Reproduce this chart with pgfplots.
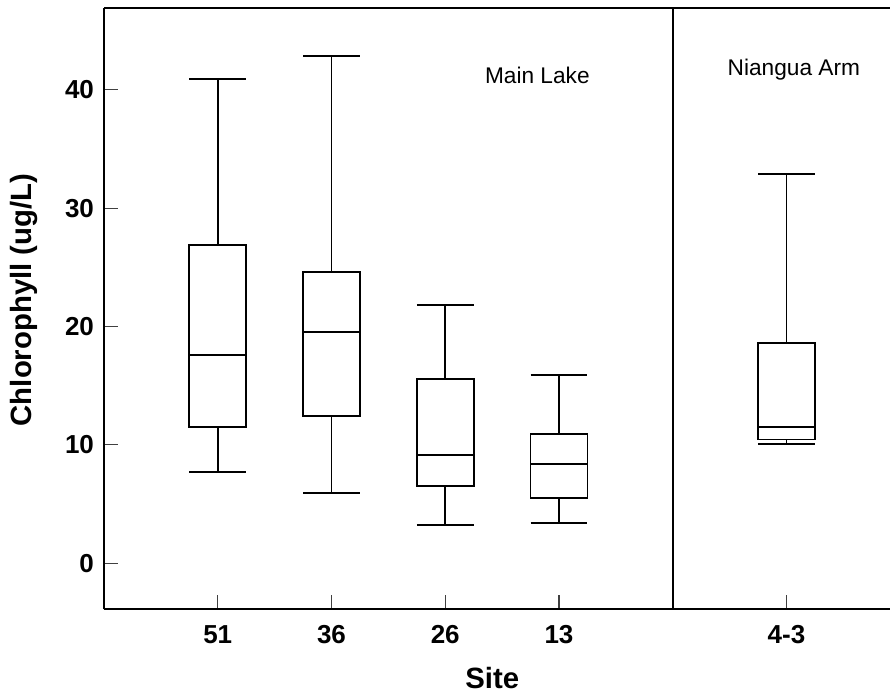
\documentclass[border=0pt]{standalone}
\usepackage{pgfplots}
\pgfplotsset{compat=1.18}
\usepgfplotslibrary{statistics}
\usepackage{fontspec}
\setmainfont{Liberation Sans}
\begin{document}
\begin{tikzpicture}
\begin{axis}[
  scale only axis,
  width=589.5pt, height=450.75pt,
  xmin=0, xmax=6.91, ymin=-3.9, ymax=46.9,
  axis x line=box, axis y line=left,
  axis line style={-, line width=1.4pt},
  tick align=inside,
  xtick pos=lower, ytick pos=lower,
  major tick length=10.5pt,
  tick style={black!75, line width=0.9pt},
  xtick={1,2,3,4,6},
  xticklabels={51,36,26,13,4-3},
  ytick={0,10,20,30,40},
  /pgf/number format/assume math mode=true,
  ticklabel style={font=\bfseries\fontsize{19.5}{22}\selectfont},
  xticklabel style={yshift=-8.5pt},
  yticklabel style={xshift=-4pt},
  label style={font=\bfseries\fontsize{22}{26}\selectfont},
  xlabel={Site},
  ylabel={Chlorophyll (ug/L)},
  xlabel style={at={(axis description cs:0.494,-0.1143)}, anchor=center},
  ylabel style={at={(axis description cs:-0.1018,0.5147)}, anchor=center},
  boxplot/draw direction=y,
  clip=false,
]
\addplot[black, line width=1.4pt, boxplot prepared={draw position=1, lower whisker=7.7, lower quartile=11.5, median=17.6, upper quartile=26.9, upper whisker=40.9, box extend=0.5, whisker extend=0.5}] coordinates {};
\addplot[black, line width=1.4pt, boxplot prepared={draw position=2, lower whisker=5.9, lower quartile=12.4, median=19.5, upper quartile=24.6, upper whisker=42.9, box extend=0.5, whisker extend=0.5}] coordinates {};
\addplot[black, line width=1.4pt, boxplot prepared={draw position=3, lower whisker=3.2, lower quartile=6.5, median=9.15, upper quartile=15.6, upper whisker=21.8, box extend=0.5, whisker extend=0.5}] coordinates {};
\addplot[black, line width=1.4pt, boxplot prepared={draw position=4, lower whisker=3.4, lower quartile=5.5, median=8.4, upper quartile=10.9, upper whisker=15.9, box extend=0.5, whisker extend=0.5}] coordinates {};
\addplot[black, line width=1.4pt, boxplot prepared={draw position=6, lower whisker=10.1, lower quartile=10.45, median=11.5, upper quartile=18.6, upper whisker=32.9, box extend=0.5, whisker extend=0.5}] coordinates {};
\draw[line width=1.4pt] (axis cs:5,-3.9) -- (axis cs:5,46.9);
\node[anchor=base, font=\fontsize{17}{20}\selectfont] at (axis cs:3.81,40.5) {Main Lake};
\node[anchor=base, font=\fontsize{17}{20}\selectfont] at (axis cs:6.065,41.2) {Niangua Arm};
\end{axis}
\pgfresetboundingbox
\path ([xshift=-78pt, yshift=-65pt]current axis.south west) rectangle ([yshift=6.2pt]current axis.north east);
\end{tikzpicture}
\end{document}
